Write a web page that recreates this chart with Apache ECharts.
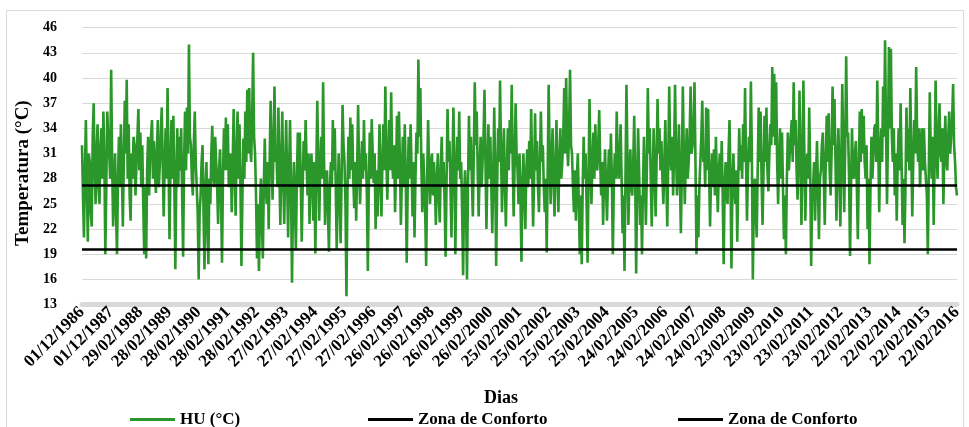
<!DOCTYPE html>
<html><head><meta charset="utf-8">
<script src="https://cdn.jsdelivr.net/npm/echarts/dist/echarts.min.js"></script>
<style>html,body{margin:0;padding:0;background:#fff}#c{width:969px;height:427px}</style>
</head><body><div id="c"></div>
<script>
// x-axis tick labels (one every 90 daily records in the original)
const tickLabels = [
  '01/12/1986','01/12/1987','29/02/1988','28/02/1989','28/02/1990','28/02/1991','28/02/1992',
  '27/02/1993','27/02/1994','27/02/1995','27/02/1996','26/02/1997','26/02/1998','26/02/1999',
  '26/02/2000','25/02/2001','25/02/2002','25/02/2003','25/02/2004','24/02/2005','24/02/2006',
  '24/02/2007','24/02/2008','23/02/2009','23/02/2010','23/02/2011','23/02/2012','22/02/2013',
  '22/02/2014','22/02/2015','22/02/2016'
];
const samplesPerTick = 30;
// HU (°C) values, 30 samples per tick interval (one row per interval)
const huValues = [
  32,26,21,29,35,27,20.5,31,30,24,22.3,33,37,29,25,31,34.5,27,25,32,34,28,36,30,19,27,36,33,31,28,
  41,30,22.3,27,31,24,19,28,33,27,34.5,29,22.3,30,37.3,31,39.8,28,34.5,26,23,31,28,33,32,26,29.5,33,36.3,29,
  33.5,27,32,25,19,27,18.5,29,33,26,30.5,33,35,28,32.5,29,26.3,31,35,27,29.5,33,36.5,30,23.5,29,34,28,38.8,30,
  20.8,29,35,28,35.5,27,17.2,28,34,27,33,29,34,26,18.7,30,36,29,36.5,31,44,33,32,28,26,32,36,30,27,24,
  16,24,26,30,32,24,17.2,27,30,22,17.8,28,25,31,34.3,28,27,33,32.8,27,22.6,29,31.5,26,18,28,34,29,35.3,29,
  34.5,27,28,31,24,30,36.3,29,23.6,31,36,28,34.5,27,17.6,26,32.8,28,36,30,38.6,31,38.8,32,30,35,43,33,31,26,
  18.5,25,17,24,28,23,18.5,27,32.8,27,25,30,22,30,37.3,31,25.5,32,39,30,31,27,36.5,29,22.5,30,36,28,22.6,29,
  35,28,21,29,35,27,15.6,25,30,25,19.5,28,33.5,27,33.5,28,20.5,27,32.5,29,35,30,26,31,22.6,28,31,27,23,30,
  19.1,29,37.3,30,23,29,33,28,39.5,30,22.5,28,29,24,19.3,27,30,27,35,29,34,27,19.5,26,31,26,20.3,28,36.8,32,
  30,25,14,26,33,28,35.3,29,34.5,28,24.5,30,23,29,36.8,29,25,29,32.5,28,35,29,31,26,17,27,33.5,28,35.1,31,
  27.5,31,22,29,23.5,28,34.5,28,23.5,30,34.5,29,39,31,25.5,30,35,29,38.3,30,28,32,24,29,35.5,28,36,30,22.5,28,
  33,27,34.5,28,18,27,33,28,34.5,29,23.5,30,21,28,33.5,31,42.2,33,38.8,30,24,31,28,24,17.6,28,35,29,25,30,
  31,26,30,27,22.5,28,31,26,22.8,29,33,27,30,25,18.7,28,36.3,30,32.5,27,21,29,36.5,30,19,28,33,29,36,28,
  30,24,16.5,26,29,25,16,27,35.5,29,33,28,23.5,31,39.5,32,36,29,23.5,29,33,27,30,33,38.6,30,22,29,34.5,28,
  33,27,21.5,28,36.5,29,17.6,27,34,30,39.7,31,24,30,34,27,22.3,29,34,29,35,31,39.2,30,23.5,30,37,31,29,25,
  31,26,18.1,27,31,26,22,29,31.5,27,32.5,28,36.3,29,22.3,28,35.8,29,32.5,27,24,30,36,30,32,27,24,28,19.2,29,
  39.2,31,25,30,34,28,23.5,29,35,29,24,30,34,28,30,33,38.8,31,40,32,29.5,34,41,32,31,27,24,29,23,28,
  31,25,19,26,17.8,27,33,28,31,25,18,28,37.5,30,25,30,33.5,28,34.5,30,29,32,36.2,30,26,30,22.5,28,31.5,27,
  23,28,31.5,27,33.4,28,19,27,31,28,36,30,28,31,34.5,28,21.5,26,17,28,39.2,31,22.5,28,31.5,27,26,30,35.5,28,
  16.7,27,34,29,22.5,26,19,27,33,28,22.5,29,38.8,31,34,28,22.3,28,34,29,23.5,30,37.5,31,34,29,32.5,28,25,30,
  35,28,22.3,30,39,31,29,33,26,31,39.2,31,26,30,34.5,28,21.5,29,39,31,25,30,34,28,30,33,39,31,32,34,
  39.5,30,19,26,21,27,30,33,37.3,30,31.5,27,36.5,29,36.3,29,22.3,28,31,27,31.5,26,33,28,24,29,31,27,32.5,26,
  17.8,27,30,26,25,31,35,28,17.3,27,31,27,25,29,20.5,28,34,29,32,28,34.5,30,38.8,30,23,29,33,30,39.6,31,
  16,25,28,24,21,29,36.5,30,36,28,22.5,29,35.5,30,36.5,29,26.5,31,34.5,32,41.3,33,40.5,32,39.5,30,25,30,34,28,
  33.5,27,20.8,26,19,28,33.5,29,29,33,35,30,39.5,32,35,29,25.5,31,38.5,30,22.5,30,39.7,31,23,29,31,28,36.5,29,
  17.6,26,27,30,23,28,32.5,27,20.8,28,29,32,33.5,28,22.5,30,35.5,30,35.8,29,26,31,39,32,37.5,30,23,30,34,29,
  22.3,30,39.3,31,24,32,42.6,33,33.5,28,18.8,27,34,29,28,31,32.5,27,20.8,29,36,30,36.3,31,35.5,30,28,32,22,28,
  17.8,27,33,28,31,34,34.5,30,39.7,32,24,31,34,30,39,33,44.5,34,25,33,43.7,34,43.5,33,30,34,26,31,23,30,
  34,29,37,30,22.5,28,20.3,27,36.5,30,34,29,38.8,31,23.5,30,35,31,41.3,33,30,34,27,31,34,29,34,30,30,26,
  19,29,38.3,31,28,33,22.5,30,39.7,32,28,33,37,31,30,34,25,31,35.5,30,29,33,36,31,33,35,39.3,32,30,27,
  26
];
// comfort zone limits (°C)
const comfortLevels = [27.2, 19.6];
const seriesNames = ['HU (°C)', 'Zona de Conforto', 'Zona de Conforto\u00a0'];

const categories = huValues.map((v, i) => i % samplesPerTick === 0 ? tickLabels[i / samplesPerTick] : '');

const FONT = "'Liberation Serif','Times New Roman',serif";
const chart = echarts.init(document.getElementById('c'), null, {renderer: 'canvas'});
const legendBase = {
  top: 411, icon: 'rect', itemWidth: 45, itemHeight: 3, padding: 0,
  textStyle: {fontFamily: FONT, fontWeight: 'bold', fontSize: 17, color: '#000'}
};
chart.setOption({
  animation: false,
  backgroundColor: '#fff',
  graphic: [{type: 'rect', silent: true, z: -10,
    shape: {x: 6.5, y: 10.5, width: 957, height: 440},
    style: {fill: 'none', stroke: '#d9d9d9', lineWidth: 1}}],
  grid: {left: 82, right: 12, top: 27.7, bottom: 122.4, containLabel: false},
  legend: [
    Object.assign({}, legendBase, {left: 130, data: [seriesNames[0]]}),
    Object.assign({}, legendBase, {left: 368, data: [seriesNames[1]]}),
    Object.assign({}, legendBase, {left: 678, data: [seriesNames[2]]})
  ],
  xAxis: {
    type: 'category', data: categories, boundaryGap: false,
    name: 'Dias', nameLocation: 'middle', nameGap: 85,
    nameTextStyle: {fontFamily: FONT, fontWeight: 'bold', fontSize: 18, color: '#000', padding: [0, 37, 0, 0]},
    axisLine: {show: true, lineStyle: {color: '#d9d9d9', width: 5}},
    axisTick: {show: false},
    splitLine: {show: false},
    axisLabel: {interval: samplesPerTick - 1, rotate: 45, margin: 5,
      fontFamily: FONT, fontWeight: 'bold', fontSize: 17, color: '#000'}
  },
  yAxis: {
    type: 'value', min: 13, max: 46, interval: 3,
    name: 'Temperatura (°C)', nameLocation: 'middle', nameRotate: 90, nameGap: 40,
    nameTextStyle: {fontFamily: FONT, fontWeight: 'bold', fontSize: 19, color: '#000', padding: [0, 14, 0, 0]},
    axisLine: {show: false}, axisTick: {show: false},
    splitLine: {show: true, lineStyle: {color: '#d9d9d9', width: 1}},
    axisLabel: {margin: 25, fontFamily: FONT, fontWeight: 'bold', fontSize: 14, color: '#000'}
  },
  series: [
    {name: seriesNames[0], type: 'line', data: huValues, symbol: 'none', showSymbol: false,
      sampling: null, color: '#2b9629', lineStyle: {color: '#2b9629', width: 2.6}, z: 2},
    {name: seriesNames[1], type: 'line', data: [], symbol: 'none', color: '#000',
      lineStyle: {color: '#000', width: 2.5}, z: 3,
      markLine: {silent: true, symbol: ['none', 'none'], label: {show: false},
        lineStyle: {color: '#000', width: 2.5, type: 'solid'},
        data: [{yAxis: comfortLevels[0]}]}},
    {name: seriesNames[2], type: 'line', data: [], symbol: 'none', color: '#000',
      lineStyle: {color: '#000', width: 2.5}, z: 3,
      markLine: {silent: true, symbol: ['none', 'none'], label: {show: false},
        lineStyle: {color: '#000', width: 2.5, type: 'solid'},
        data: [{yAxis: comfortLevels[1]}]}}
  ]
});
</script></body></html>
